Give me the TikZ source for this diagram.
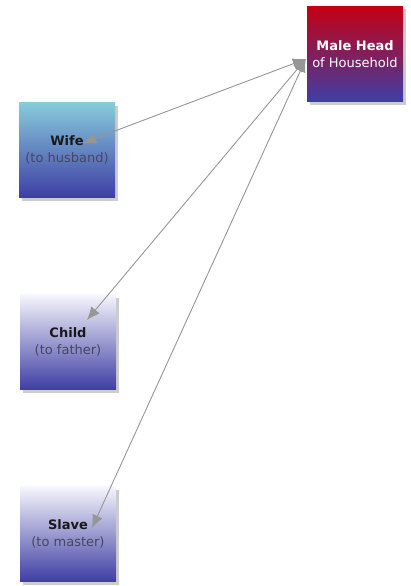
\documentclass[tikz,border=0pt]{standalone}
\usepackage{fontspec}
\setmainfont{DejaVu Sans}
\usetikzlibrary{arrows.meta,shadows}
\definecolor{headtop}{RGB}{196,0,20}
\definecolor{boxbottom}{RGB}{62,62,164}
\definecolor{wifetop}{RGB}{136,204,220}
\definecolor{paletop}{RGB}{246,246,252}
\definecolor{linkgray}{RGB}{150,150,150}
\definecolor{subtext}{RGB}{70,70,100}
\tikzset{
  rolebox/.style={minimum width=96pt, minimum height=95pt, align=center, inner sep=0pt,
    bottom color=boxbottom, font=\fontsize{13}{16.5}\selectfont,
    drop shadow={opacity=0.4, shadow xshift=3pt, shadow yshift=-3pt}},
  link/.style={linkgray, line width=0.9pt, {Latex[length=13pt,width=11pt]}-{Latex[length=13pt,width=11pt]}}
}
\begin{document}
\begin{tikzpicture}[x=1pt, y=-1pt]
			%%%%% START %%%%%
			
			\useasboundingbox (0, 0) rectangle (411, 586);
			
			\node[rolebox, top color=headtop, text=white] (male) at (355, 54)
				{\textbf{Male Head}\\of Household};
			
			\node[rolebox, top color=wifetop, text=black!90] (wife) at (67, 150)
				{\textbf{Wife}\\\textcolor{subtext}{(to husband)}};
			\node[rolebox, top color=paletop, text=black!90] (child) at (68, 342)
				{\textbf{Child}\\\textcolor{subtext}{(to father)}};
			\node[rolebox, top color=paletop, text=black!90] (slave) at (68, 534)
				{\textbf{Slave}\\\textcolor{subtext}{(to master)}};
			
			\draw[link] ([xshift=-1pt,yshift=-5pt]male.west) -- ([xshift=16pt,yshift=7pt]wife.center);
			\draw[link] ([xshift=-1pt,yshift=-5pt]male.west) -- ([xshift=19pt,yshift=22pt]child.center);
			\draw[link] ([xshift=-1pt,yshift=-5pt]male.west) -- ([xshift=24pt,yshift=6pt]slave.center);
			
			%%%%% END %%%%%
\end{tikzpicture}
\end{document}
